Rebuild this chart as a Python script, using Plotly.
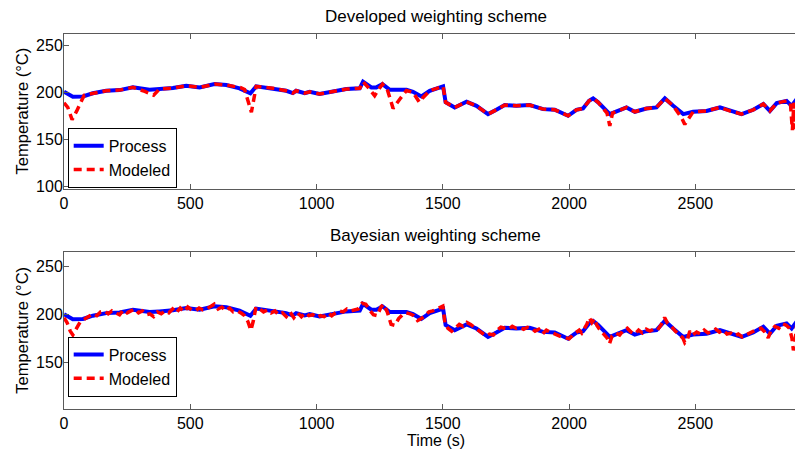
import plotly.graph_objects as go

# ---------------- data ----------------
process_t = [0, 35, 75, 114, 167, 220, 273, 339, 378, 431, 484, 537, 596, 643, 695, 738, 761,
             827, 880, 906, 919, 953, 973, 1012, 1065, 1118, 1171, 1184, 1217, 1237, 1261, 1290,
             1356, 1382, 1415, 1448, 1501, 1511, 1547, 1594, 1633, 1679, 1712, 1745, 1791, 1844,
             1897, 1943, 1996, 2029, 2055, 2079, 2095, 2115, 2161, 2227, 2260, 2306, 2346, 2379,
             2412, 2452, 2491, 2544, 2597, 2636, 2683, 2729, 2769, 2795, 2822, 2861, 2881, 2901, 2926]
process_T = [200.6, 195.3, 195.7, 199, 201.7, 202.4, 205.3, 202.8, 203.5, 204.6, 207, 205.3,
             208.8, 207.8, 204.3, 199, 206.4, 204.3, 201.7, 199.2, 201.7, 199.2, 200.6, 198.2,
             200.7, 203.5, 204.3, 211.3, 205.3, 205.3, 208.8, 202.8, 202.8, 200.6, 195.7, 201.7,
             206.4, 189.4, 184, 190, 185.7, 176.9, 181.5, 186.5, 185.7, 186.5, 182.2, 181.5, 175.1,
             181.5, 182.9, 191, 193.6, 189.4, 176.9, 184, 179.4, 182.9, 184, 193.6, 185.7, 176.9,
             179.4, 180.3, 184, 180.3, 176.9, 181.5, 187.6, 180.3, 188.6, 191, 185.7, 192.9, 191]

dev_t = [0, 15, 32, 50, 80, 114, 167, 220, 273, 320, 355, 378, 431, 484, 537, 596, 643, 700,
         715, 742, 752, 761, 827, 880, 906, 919, 953, 973, 1012, 1065, 1118, 1171, 1184, 1205,
         1230, 1245, 1261, 1280, 1303, 1330, 1356, 1382, 1407, 1420, 1448, 1501, 1511, 1547,
         1594, 1633, 1679, 1712, 1745, 1791, 1844, 1897, 1943, 1996, 2029, 2055, 2079, 2095,
         2115, 2150, 2161, 2172, 2227, 2260, 2306, 2346, 2379, 2412, 2445, 2458, 2465, 2478,
         2491, 2544, 2597, 2636, 2683, 2729, 2769, 2795, 2822, 2861, 2876, 2884, 2890, 2897,
         2903, 2910, 2916, 2926]
dev_T = [189, 184, 171, 180, 197, 199, 201.7, 202.4, 205.3, 201, 197, 203.5, 204.6, 207, 205.3,
         208.8, 207.8, 205, 203, 179, 196, 206.4, 204.3, 201.7, 199.2, 201.7, 199.2, 200.6, 198.2,
         200.7, 203.5, 204.3, 211.3, 205, 196.4, 203, 208.8, 203, 183, 193, 202, 200, 189.5, 194,
         201.7, 206.4, 189.4, 184, 190, 185.7, 176.9, 181.5, 186.5, 185.7, 186.5, 182.2, 181.5,
         175.1, 181.5, 182.9, 191, 193.6, 189.4, 178, 164.5, 178, 184, 179.4, 182.9, 184, 193.6,
         185.7, 173, 166, 169, 173, 179.4, 180.3, 184, 180.3, 176.9, 181.5, 187.6, 180.3, 188.6,
         191, 189, 160, 189, 161, 192, 166, 190, 189]

bay_t = [0, 12, 25, 35, 50, 65, 85, 100, 115, 130, 145, 160, 175, 190, 205, 220, 235, 250, 265,
         280, 295, 310, 325, 340, 355, 370, 385, 400, 415, 430, 445, 460, 475, 490, 505, 520, 535,
         550, 565, 580, 595, 610, 625, 640, 655, 670, 685, 700, 715, 728, 740, 750, 760, 775, 790,
         805, 820, 835, 850, 865, 880, 895, 910, 925, 940, 955, 970, 985, 1000, 1015, 1030, 1045,
         1060, 1075, 1090, 1105, 1120, 1135, 1150, 1165, 1180, 1195, 1210, 1225, 1240, 1255, 1265,
         1280, 1295, 1310, 1325, 1340, 1355, 1370, 1385, 1400, 1415, 1430, 1445, 1460, 1475, 1490,
         1500, 1508, 1520, 1535, 1550, 1565, 1580, 1595, 1610, 1625, 1640, 1655, 1670, 1685, 1700,
         1715, 1730, 1745, 1760, 1775, 1790, 1805, 1820, 1835, 1850, 1865, 1880, 1895, 1910, 1925,
         1940, 1955, 1970, 1985, 2000, 2015, 2030, 2040, 2050, 2060, 2070, 2080, 2090, 2100, 2110,
         2120, 2135, 2150, 2160, 2170, 2185, 2200, 2215, 2230, 2245, 2260, 2275, 2290, 2305, 2320,
         2335, 2350, 2365, 2378, 2390, 2405, 2420, 2435, 2450, 2458, 2468, 2478, 2490, 2505, 2520,
         2535, 2550, 2565, 2580, 2595, 2610, 2625, 2640, 2655, 2670, 2685, 2700, 2715, 2730, 2745,
         2760, 2775, 2788, 2800, 2815, 2830, 2845, 2860, 2872, 2882, 2888, 2894, 2900, 2906, 2912,
         2920, 2926]
bay_T = [197, 192, 183, 179, 186, 193, 196, 198, 201, 199, 203, 204, 201, 204, 202, 200, 205, 202,
         204, 206, 202, 204, 200, 201, 198, 203, 201, 204, 202, 206, 202, 207, 203, 208, 205, 204,
         207, 205, 206, 208, 211, 206, 208, 204, 207, 203, 204, 202, 199, 193, 184, 194, 208, 206,
         203, 205, 202, 204, 200, 202, 198, 203, 197, 202, 198, 202, 199, 200, 197, 199, 198, 202,
         199, 202, 204, 203, 206, 204, 205, 206, 212, 211, 205, 200, 199, 208, 211, 203, 190, 189,
         196, 200, 202, 201, 199, 194, 196, 200, 203, 204, 206, 207, 209, 192, 186, 183, 186, 190,
         188, 192, 190, 187, 184, 181, 178, 180, 179, 184, 187, 186, 185, 188, 186, 187, 185, 187,
         186, 183, 185, 180, 184, 182, 180, 178, 177, 176, 175, 179, 182, 184, 181, 185, 190, 197,
         192, 196, 189, 185, 181, 176, 170, 178, 181, 179, 184, 186, 182, 180, 184, 181, 185, 183,
         185, 184, 190, 197, 191, 188, 183, 179, 176, 171, 174, 183, 179, 182, 180, 184, 181, 183,
         185, 182, 184, 180, 181, 178, 180, 177, 179, 181, 183, 185, 186, 182, 176, 184, 188, 186,
         191, 189, 186, 176, 163, 170, 188, 197, 192, 185, 188]

x_ticks = [0, 500, 1000, 1500, 2000, 2500]
y_ticks = [100, 150, 200, 250]
titles = ["Developed weighting scheme", "Bayesian weighting scheme"]
x_title = "Time (s)"
y_title = "Temperature (°C)"
names = ["Process", "Modeled"]

# ---------------- figure ----------------
FONT = "Liberation Sans, Arial, sans-serif"
BLUE = "rgb(0,0,255)"
RED = "rgb(255,0,0)"
DASH = "8px,5px"

fig = go.Figure()
for k, (mt, mT) in enumerate([(dev_t, dev_T), (bay_t, bay_T)]):
    xa = "x" if k == 0 else "x2"
    ya = "y" if k == 0 else "y2"
    lg = "legend" if k == 0 else "legend2"
    fig.add_trace(go.Scatter(x=process_t, y=process_T, mode="lines", name=names[0],
                             line=dict(color=BLUE, width=4), xaxis=xa, yaxis=ya, legend=lg))
    fig.add_trace(go.Scatter(x=mt, y=mT, mode="lines", name=names[1],
                             line=dict(color=RED, width=3.5, dash=DASH), xaxis=xa, yaxis=ya, legend=lg))

axcol = "#5a5a5a"
common_x = dict(range=[0, 2926], tickvals=x_ticks, showgrid=False, zeroline=False, showline=True,
                linecolor=axcol, linewidth=1, mirror="ticks", ticks="inside", ticklen=5,
                tickcolor=axcol, automargin=False,
                tickfont=dict(family=FONT, size=16, color="black"))
common_y = dict(tickvals=y_ticks, showgrid=False, zeroline=False, showline=True,
                linecolor=axcol, linewidth=1, mirror="ticks", ticks="inside", ticklen=5,
                tickcolor=axcol, automargin=False, ticklabelstandoff=-3,
                tickfont=dict(family=FONT, size=16, color="black"))

legend_common = dict(bgcolor="white", bordercolor="black", borderwidth=1,
                     font=dict(family=FONT, size=16, color="black"),
                     xanchor="left", yanchor="bottom", tracegroupgap=0, itemwidth=30)

tfont = dict(family=FONT, size=17, color="black")
lfont = dict(family=FONT, size=16.5, color="black")
xfont = dict(family=FONT, size=16, color="black")

# the page body adds an 8px margin, so the figure is sized to fit the 803x450 window
fig.update_layout(
    template="none",
    width=795, height=442,
    margin=dict(l=56, r=0, t=26, b=41),
    paper_bgcolor="white", plot_bgcolor="white",
    font=dict(family=FONT, size=16, color="black"),
    showlegend=True,
    xaxis=dict(domain=[0, 1], anchor="y", **common_x),
    yaxis=dict(domain=[0.587, 1.0], anchor="x", range=[97.5, 262], **common_y),
    xaxis2=dict(domain=[0, 1], anchor="y2", **common_x),
    yaxis2=dict(domain=[0, 0.418], anchor="x2", range=[102, 265], **common_y),
    legend=dict(x=0.005, y=0.590, **legend_common),
    legend2=dict(x=0.005, y=0.033, **legend_common),
    annotations=[
        dict(text=titles[0], xref="paper", yref="paper", x=0.503, y=1.0, yshift=18,
             xanchor="center", yanchor="middle", showarrow=False, font=tfont),
        dict(text=titles[1], xref="paper", yref="paper", x=0.503, y=0.418, yshift=17,
             xanchor="center", yanchor="middle", showarrow=False, font=tfont),
        dict(text=x_title, xref="paper", yref="paper", x=0.503, y=0.0, yshift=-31,
             xanchor="center", yanchor="middle", showarrow=False, font=xfont),
        dict(text=y_title, xref="paper", yref="paper", x=0.0, y=0.7935, xshift=-42,
             xanchor="center", yanchor="middle", textangle=-90, showarrow=False, font=lfont),
        dict(text=y_title, xref="paper", yref="paper", x=0.0, y=0.209, xshift=-42,
             xanchor="center", yanchor="middle", textangle=-90, showarrow=False, font=lfont),
    ],
)

fig.write_html("out.html")
